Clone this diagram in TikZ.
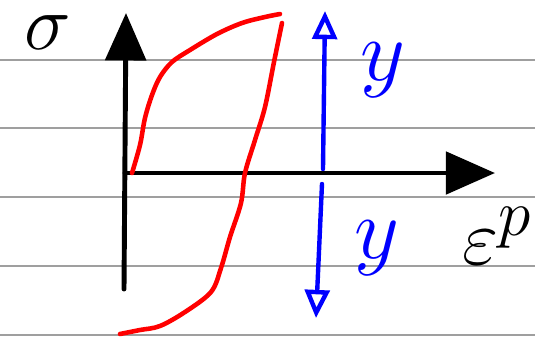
\documentclass[tikz,border=0pt]{standalone}
\usepackage{amsmath,amssymb}
\usepackage{tikz}
\usetikzlibrary{arrows.meta}
\usetikzlibrary{positioning}

\tikzset{
  rule/.style={gray!75, line width=1.1pt},
  axis/.style={line width=2.8pt, line cap=round},
  loopline/.style={red, line width=2.6pt, line cap=round, line join=round},
  yieldline/.style={blue, line width=2.5pt, line cap=round},
  biglabel/.style={font=\Huge, scale=2, inner sep=0pt}
}

\begin{document}
\begin{tikzpicture}[x=0.02cm, y=-0.02cm]
    \useasboundingbox (0,0) rectangle (535,343);

    % ruled paper
    \foreach \yy in {60,128,197,266,335}
        \draw[rule] (0,\yy) -- (535,\yy);

    % axes
    \coordinate (O) at (125,173);
    \coordinate (Ybot) at (124,289);
    \coordinate (Ytop) at (126,13);
    \coordinate (Xend) at (495,173);

    \draw[axis, -{Triangle[length=27pt,width=23pt]}] (Ybot) -- (Ytop);
    \draw[axis, -{Triangle[length=28pt,width=24pt]}] (O) -- (Xend);

    \node[biglabel, scale=0.9] (sig) at (48,33) {$\sigma$};
    \node[biglabel, scale=0.9, anchor=east] (eps) at (533,236) {$\varepsilon^{p}$};

    % hysteresis loop
    \draw[loopline] plot[smooth, tension=0.55] coordinates {
        (132,173) (140,145) (145,118) (152,95) (160,77) (172,62)
        (190,50) (217,34) (242,23) (265,17) (280,14)};
    \draw[loopline] plot[smooth, tension=0.55] coordinates {
        (282,23) (274,62) (265,107) (255,140) (245,173) (241,203)
        (230,237) (221,268) (211,292) (185,312) (160,326) (140,330) (120,334)};

    % yield arrows
    \coordinate (Up0) at (323,169);
    \coordinate (Up1) at (325,11);
    \coordinate (Dn0) at (322,184);
    \coordinate (Dn1) at (316,318);

    \draw[yieldline, -{Triangle[open,length=16pt,width=14pt]}] (Up0) -- (Up1);
    \draw[yieldline, -{Triangle[open,length=16pt,width=14pt]}] (Dn0) -- (Dn1);

    \node[biglabel, blue] (yup) at (383,70) {$y$};
    \node[biglabel, blue] (ydn) at (377,248) {$y$};
\end{tikzpicture}
\end{document}
